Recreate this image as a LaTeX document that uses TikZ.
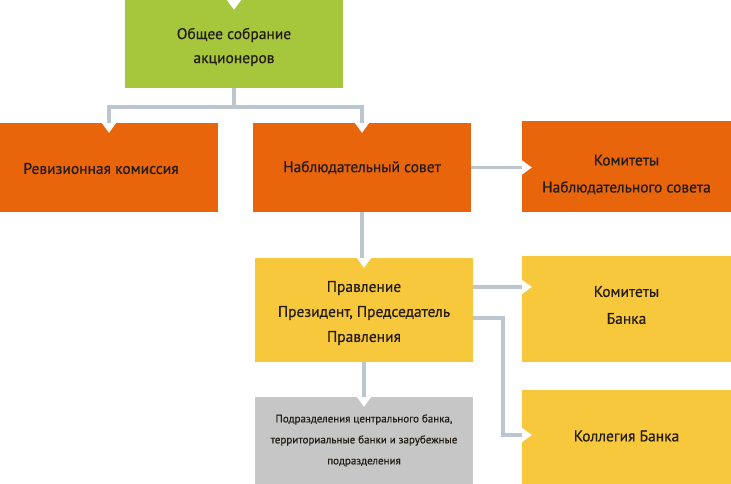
\documentclass[tikz,border=0pt]{standalone}
\usepackage{fontspec}
\setmainfont{PT Sans}[FakeBold=0.6]
\usetikzlibrary{calc}
\definecolor{cgreen}{HTML}{A6C73C}
\definecolor{corange}{HTML}{E8650C}
\definecolor{cyellow}{HTML}{F8C83C}
\definecolor{cgray}{HTML}{C6C6C6}
\definecolor{lineC}{HTML}{BCC6CF}
\definecolor{txt}{HTML}{231C12}
\begin{document}
\begin{tikzpicture}[x=1pt,y=-1pt,
  box/.style={rectangle, inner sep=0pt, minimum width=218pt},
  sidebox/.style={box, minimum width=209pt},
  lbl/.style={align=center, inner sep=0pt, font=\fontsize{15.5}{24}\selectfont, text=txt},
  smalllbl/.style={lbl, font=\fontsize{11}{21}\selectfont},
  conn/.style={draw=lineC, line width=3.5pt},
  notchdown/.pic={\fill[white] (-8,-1) -- (8,-1) -- (0,10) -- cycle;},
  notchright/.pic={\fill[white] (-1,-8) -- (-1,8) -- (10,0) -- cycle;}]
\useasboundingbox (0,0) rectangle (731,484);
% boxes
\node[box, fill=cgreen, minimum height=88pt] (gsa) at (234,44) {};
\node[box, fill=corange, minimum height=89pt] (rev) at (109,167.5) {};
\node[box, fill=corange, minimum height=89pt] (ns) at (362,167.5) {};
\node[sidebox, fill=corange, minimum height=91pt] (kns) at (626.5,166.5) {};
\node[box, fill=cyellow, minimum height=104pt] (pr) at (364,310) {};
\node[sidebox, fill=cyellow, minimum height=106pt] (kb) at (626.5,309) {};
\node[box, fill=cgray, minimum height=87pt] (gr) at (364,440.5) {};
\node[sidebox, fill=cyellow, minimum height=94pt] (kol) at (626.5,437) {};
% texts
\node[lbl] (gsa-t) at ($(gsa.center)+(0,3)$) {Общее собрание\\акционеров};
\node[lbl] (rev-t) at ($(rev.center)+(-8,1)$) {Ревизионная комиссия};
\node[lbl] (ns-t) at ($(ns.center)+(0,0)$) {Наблюдательный совет};
\node[lbl, font=\fontsize{15.5}{27}\selectfont] (kns-t) at ($(kns.center)+(0,8)$) {Комитеты\\Наблюдательного совета};
\node[lbl, font=\fontsize{15.5}{25}\selectfont] (pr-t) at ($(pr.center)+(0,3)$) {Правление\\Президент, Председатель\\Правления};
\node[lbl, font=\fontsize{15.5}{27}\selectfont] (kb-t) at ($(kb.center)+(0,-4)$) {Комитеты\\Банка};
\node[smalllbl] (gr-t) at ($(gr.center)+(0,0)$) {Подразделения центрального банка,\\территориальные банки и зарубежные\\подразделения};
\node[lbl] (kol-t) at ($(kol.center)+(0,-1)$) {Коллегия Банка};
% connector points
\coordinate (p1) at ($(pr.east)+(0,-23)$);
\coordinate (p2) at ($(pr.east)+(0,8)$);
\coordinate (k2) at ($(kol.west)+(0,-2)$);
\coordinate (k1) at (p1 -| kb.west);
% notches
\pic at (gsa.north) {notchdown};
\pic at (rev.north) {notchdown};
\pic at (ns.north) {notchdown};
\pic at (pr.north) {notchdown};
\pic at (gr.north) {notchdown};
\pic at (ns.east -| kns.west) {notchright};
\pic at (k1) {notchright};
\pic at (k2) {notchright};
% connectors
\draw[conn] (gsa.south) -- ++(0,19) -| (rev.north);
\draw[conn] (gsa.south) -- ++(0,19) -| (ns.north);
\draw[conn] (ns.east) -- (ns.east -| kns.west);
\draw[conn] (ns.south) -- (ns.south |- pr.north);
\draw[conn] (p1) -- (k1);
\draw[conn] (p2) -- ++(30,0) |- (k2);
\draw[conn] (pr.south) -- (gr.north);
\end{tikzpicture}
\end{document}
